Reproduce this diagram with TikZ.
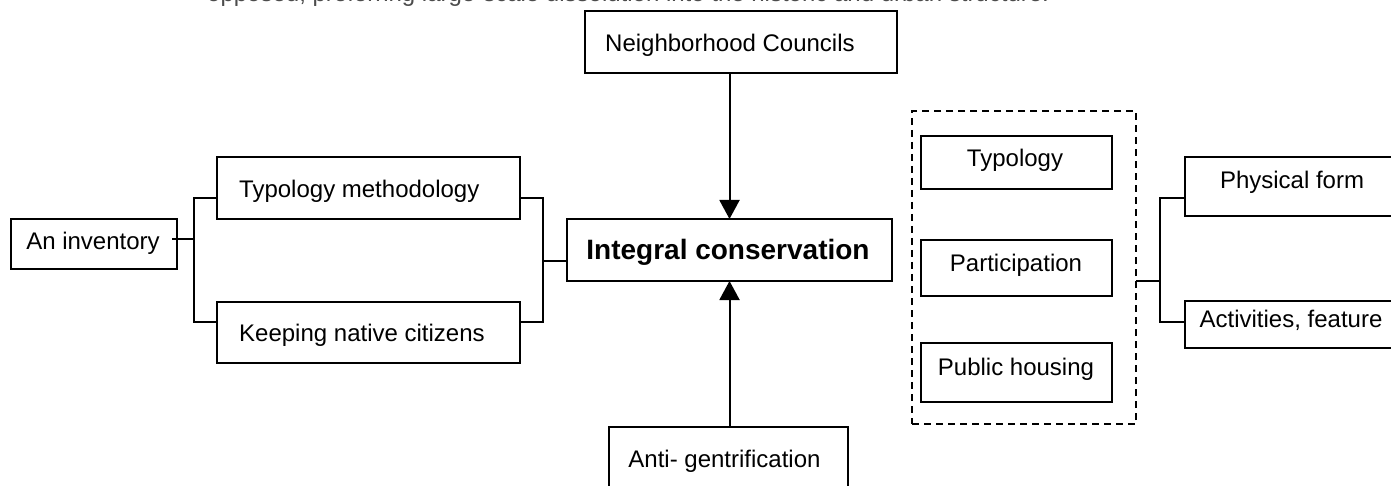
\documentclass[tikz,border=0pt]{standalone}
\usepackage{fontspec}
\setmainfont{Liberation Sans}
\usetikzlibrary{arrows.meta}
\begin{document}
\begin{tikzpicture}[x=1pt,y=-1pt,
  boxn/.style={draw=black, line width=2.2pt, fill=white, inner sep=0pt, outer sep=0pt},
  lbl/.style={font=\fontsize{24}{28}\selectfont, inner sep=0pt, text height=17.2pt, text depth=0pt},
  blbl/.style={font=\fontsize{28}{32}\selectfont\bfseries, inner sep=0pt, text height=20pt, text depth=0pt},
  conn/.style={line width=2pt},
  arr/.style={conn, -{Triangle[length=19pt,width=20pt]}},
  grp/.style={draw=black, line width=1.6pt, dash pattern=on 7pt off 5pt, inner sep=0pt, outer sep=0pt}
]
\useasboundingbox (0,0) rectangle (1391,486);
\fill[white] (0,0) rectangle (1391,486);
\clip (0,0) rectangle (1391,486);

% clipped line of running text at the top
\node[anchor=base west, font=\fontsize{24}{28}\selectfont, inner sep=0pt, text=black!70] (toptext) at (207,1.5)
  {opposed, preferring large-scale dissolution into the historic and urban structure.};

% boxes
\node[boxn, minimum width=312pt, minimum height=62pt] (nc) at (741,42) {};
\node[lbl, anchor=west] (nct) at (605,42.5) {Neighborhood Councils};

\node[boxn, minimum width=325pt, minimum height=62pt] (ic) at (729.5,250) {};
\node[blbl] (ict) at (728,250) {Integral conservation};

\node[boxn, minimum width=239pt, minimum height=64pt] (ag) at (728.5,459) {};
\node[lbl] (agt) at (724.5,458.5) {Anti- gentrification};

\node[boxn, minimum width=166pt, minimum height=50pt] (inv) at (94,244) {};
\node[lbl] (invt) at (93,240.5) {An inventory};

\node[boxn, minimum width=303pt, minimum height=62pt] (tm) at (368.5,188) {};
\node[lbl, anchor=west] (tmt) at (239,189) {Typology methodology};

\node[boxn, minimum width=303pt, minimum height=61pt] (knc) at (368.5,332.5) {};
\node[lbl, anchor=west] (knct) at (239,333) {Keeping native citizens};

% dashed group
\node[grp, minimum width=224pt, minimum height=313pt] (grp) at (1024,267.5) {};
\node[boxn, minimum width=191pt, minimum height=53pt] (ty) at (1016.5,162.5) {};
\node[lbl] (tyt) at (1015,158) {Typology};
\node[boxn, minimum width=191pt, minimum height=56pt] (pa) at (1016.5,268) {};
\node[lbl] (pat) at (1016,263) {Participation};
\node[boxn, minimum width=191pt, minimum height=59pt] (ph) at (1016.5,372.5) {};
\node[lbl] (pht) at (1016,366.5) {Public housing};

% right boxes (run off the edge)
\node[boxn, minimum width=214pt, minimum height=59pt] (pf) at (1292,186.5) {};
\node[lbl] (pft) at (1292,179.5) {Physical form};
\node[boxn, minimum width=214pt, minimum height=47pt] (af) at (1292,324.5) {};
\node[lbl] (aft) at (1291,318.5) {Activities, feature};

% junction points
\coordinate (j1) at (194,239);
\coordinate (lbt) at (194,198);
\coordinate (lbb) at (194,322);
\coordinate (rbt) at (543,198);
\coordinate (rbb) at (543,322);
\coordinate (rbm) at (543,261);
\coordinate (rj) at (1160,281);
\coordinate (rjt) at (1160,198);
\coordinate (rjb) at (1160,322);

% connectors
\draw[conn] ([xshift=-5pt]inv.east |- j1) -- (j1);
\draw[conn] (tm.west |- lbt) -- (lbt) -- (lbb) -- (knc.west |- lbb);
\draw[conn] (tm.east |- rbt) -- (rbt) -- (rbb) -- (knc.east |- rbb);
\draw[conn] (rbm) -- (ic.west |- rbm);
\draw[arr] (ic.north |- nc.south) -- (ic.north);
\draw[arr] (ic.south |- ag.north) -- (ic.south);
\draw[conn] (grp.east |- rj) -- (rj);
\draw[conn] (pf.west |- rjt) -- (rjt) -- (rjb) -- (af.west |- rjb);
\end{tikzpicture}
\end{document}
